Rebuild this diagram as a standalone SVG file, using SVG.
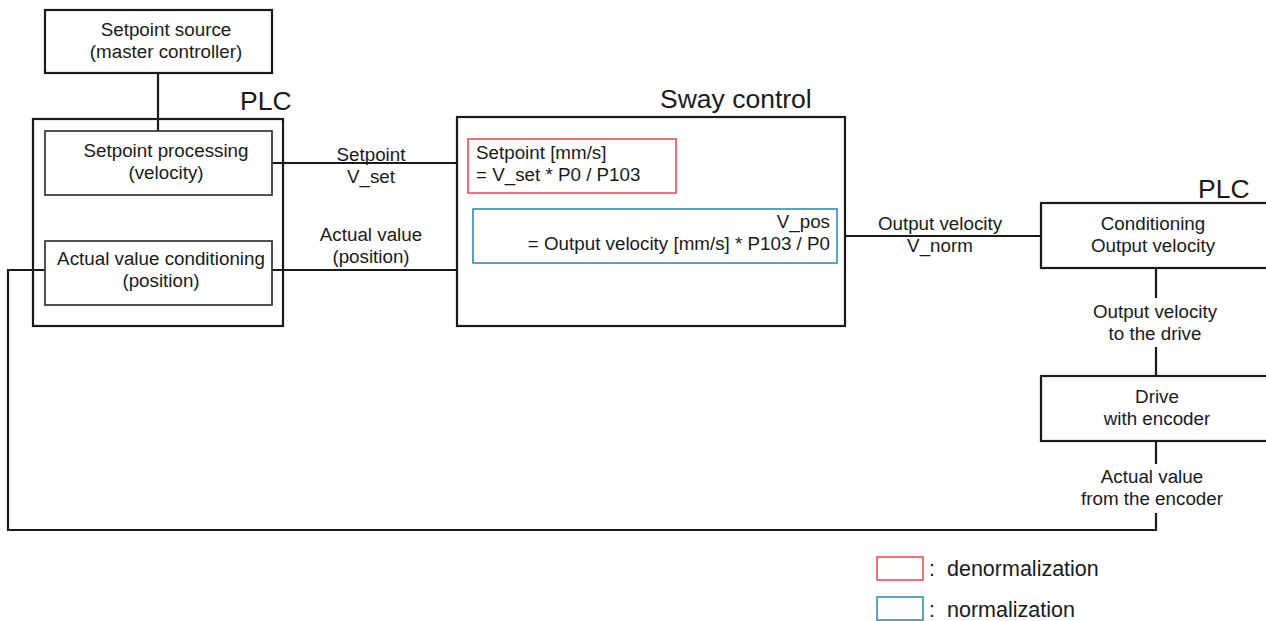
<svg xmlns="http://www.w3.org/2000/svg" width="1266" height="621" viewBox="0 0 1266 621">
  <style>
    text { font-family: "Liberation Sans", Arial, sans-serif; font-size: 18.8px; fill: #1a1a1a; }
    .c { text-anchor: middle; }
    .r { text-anchor: end; }
    .title { font-size: 26.5px; }
    .legend { font-size: 21.5px; }
    .box { fill: #ffffff; stroke: #1a1a1a; stroke-width: 2.2; }
    .frame { fill: none; stroke: #1a1a1a; stroke-width: 2.2; }
    .inner { fill: #ffffff; stroke: #333333; stroke-width: 1.7; }
    .denorm { fill: #ffffff; stroke: #e4646c; stroke-width: 1.8; }
    .norm { fill: #ffffff; stroke: #4b97b3; stroke-width: 1.8; }
    .wire { fill: none; stroke: #1a1a1a; stroke-width: 2.2; }
  </style>
  <rect width="1266" height="621" fill="#ffffff"/>

  <!-- signal wires -->
  <g id="connectors">
    <line class="wire" x1="158" y1="73" x2="158" y2="131"/>
    <line class="wire" x1="272" y1="163" x2="457" y2="163"/>
    <line class="wire" x1="272" y1="270" x2="457" y2="270"/>
    <line class="wire" x1="846" y1="236" x2="1041" y2="236"/>
    <line class="wire" x1="1156" y1="268" x2="1156" y2="298"/>
    <line class="wire" x1="1156" y1="347" x2="1156" y2="376"/>
    <line class="wire" x1="1156" y1="441" x2="1156" y2="464"/>
    <polyline class="wire" points="1156,513 1156,530 8,530 8,270 45,270"/>
  </g>

  <g id="setpoint-source">
    <rect class="box" x="45" y="10" width="227" height="63"/>
    <text class="c" x="166" y="36">Setpoint source</text>
    <text class="c" x="166" y="58">(master controller)</text>
  </g>

  <g id="plc-left">
    <rect class="frame" x="33" y="119" width="250" height="207"/>
    <text class="title" x="240" y="110">PLC</text>
  </g>

  <g id="setpoint-processing">
    <rect class="inner" x="45" y="131" width="227" height="64"/>
    <text class="c" x="166" y="157">Setpoint processing</text>
    <text class="c" x="166" y="179">(velocity)</text>
  </g>

  <g id="actual-value-conditioning">
    <rect class="inner" x="45" y="241" width="227" height="64"/>
    <text class="c" x="161" y="265">Actual value conditioning</text>
    <text class="c" x="161" y="287">(position)</text>
  </g>

  <g id="label-setpoint">
    <text class="c" x="371" y="161">Setpoint</text>
    <text class="c" x="371" y="183">V_set</text>
  </g>
  <g id="label-actual">
    <text class="c" x="371" y="241">Actual value</text>
    <text class="c" x="371" y="263">(position)</text>
  </g>

  <g id="sway-control">
    <rect class="box" x="457" y="117" width="388" height="209"/>
    <text class="title" x="660" y="108">Sway control</text>
    <rect class="denorm" x="468" y="139" width="208" height="54"/>
    <text x="476" y="159">Setpoint [mm/s]</text>
    <text x="476" y="181">= V_set * P0 / P103</text>
    <rect class="norm" x="473" y="209" width="364" height="54"/>
    <text class="r" x="830" y="228">V_pos</text>
    <text class="r" x="830" y="250">= Output velocity [mm/s] * P103 / P0</text>
  </g>

  <g id="label-output">
    <text class="c" x="940" y="230">Output velocity</text>
    <text class="c" x="940" y="252">V_norm</text>
  </g>

  <g id="conditioning-output">
    <rect class="box" x="1041" y="203" width="240" height="65"/>
    <text class="title" x="1198" y="198">PLC</text>
    <text class="c" x="1153" y="230">Conditioning</text>
    <text class="c" x="1153" y="252">Output velocity</text>
  </g>

  <g id="label-to-drive">
    <text class="c" x="1155" y="318">Output velocity</text>
    <text class="c" x="1155" y="340">to the drive</text>
  </g>

  <g id="drive">
    <rect class="box" x="1041" y="376" width="240" height="65"/>
    <text class="c" x="1157" y="403">Drive</text>
    <text class="c" x="1157" y="425">with encoder</text>
  </g>

  <g id="label-encoder">
    <text class="c" x="1152" y="483">Actual value</text>
    <text class="c" x="1152" y="505">from the encoder</text>
  </g>

  <g id="legend">
    <rect class="denorm" x="877" y="557" width="46" height="23"/>
    <text class="legend" x="929" y="576">:</text>
    <text class="legend" x="947" y="576">denormalization</text>
    <rect class="norm" x="877" y="597" width="46" height="23"/>
    <text class="legend" x="929" y="617">:</text>
    <text class="legend" x="947" y="617">normalization</text>
  </g>
</svg>
